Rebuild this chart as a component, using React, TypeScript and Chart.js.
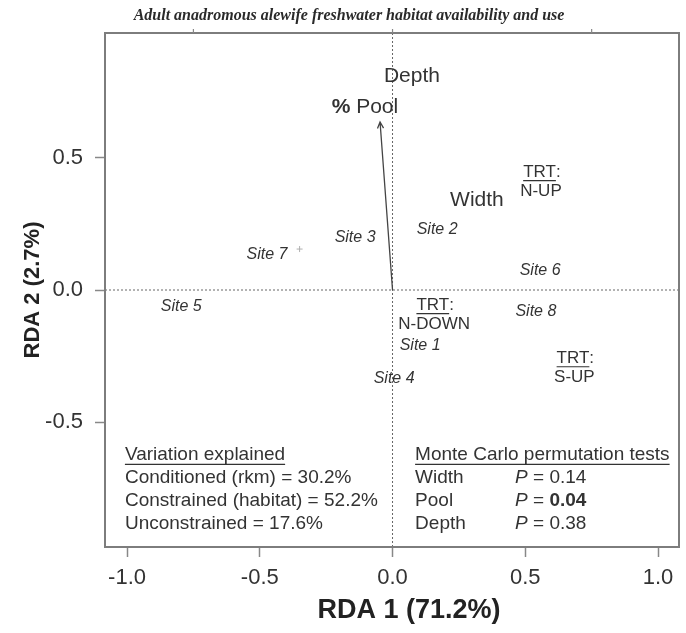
import React, { useEffect, useRef } from 'react';
import { Chart, registerables } from 'chart.js';

Chart.register(...registerables);

// ---- data ----
const chartTitle = 'Adult anadromous alewife freshwater habitat availability and use';
const xTitle = 'RDA 1 (71.2%)';
const yTitle = 'RDA 2 (2.7%)';

const siteNames = ['Site 1', 'Site 2', 'Site 3', 'Site 4', 'Site 5', 'Site 6', 'Site 7', 'Site 8'];
const siteX = [0.104, 0.168, -0.141, 0.006, -0.796, 0.556, -0.473, 0.54];
const siteY = [-0.212, 0.227, 0.197, -0.337, -0.064, 0.072, 0.136, -0.083];

const envNames = ['Depth', '% Pool', 'Width'];
const envX = [0.073, -0.104, 0.318];
const envY = [0.811, 0.693, 0.341];

const arrowX = [0, -0.047];
const arrowY = [0, 0.636];

const speciesX = [-0.35];
const speciesY = [0.155];

const trtNames = ['N-UP', 'N-DOWN', 'S-UP'];
const trtX = [0.559, 0.157, 0.685];
const trtY = [0.447, -0.057, -0.258];

const xTicks = [-1.0, -0.5, 0, 0.5, 1.0];
const yTicks = [-0.5, 0, 0.5];
const topTicks = [-0.75, 0, 0.75];
const xRange = [-1.083, 1.079];
const yRange = [-0.973, 0.973];

const variationTitle = 'Variation explained';
const variationLines = ['Conditioned (rkm) = 30.2%', 'Constrained (habitat) = 52.2%', 'Unconstrained = 17.6%'];
const testTitle = 'Monte Carlo permutation tests';
const testVars = ['Width', 'Pool', 'Depth'];
const testP = ['0.14', '0.04', '0.38'];
const testSignificant = [false, true, false];
const noteX = [-1.008, 0.085];
const noteY = -0.625;

const SANS = '"Liberation Sans", Arial, sans-serif';
const SERIF = '"Liberation Serif", "Times New Roman", serif';
const TEXT = '#333';

function drawUnderlined(ctx: CanvasRenderingContext2D, text: string, x: number, y: number, size: number) {
  ctx.textAlign = 'left';
  ctx.fillText(text, x, y);
  const w = ctx.measureText(text).width;
  const uy = y + size * 0.36 + 2.5;
  ctx.beginPath();
  ctx.moveTo(x, uy);
  ctx.lineTo(x + w, uy);
  ctx.lineWidth = 1.2;
  ctx.strokeStyle = TEXT;
  ctx.stroke();
}

const overlay = {
  id: 'overlay',
  beforeDatasetsDraw(chart: any) {
    const { ctx, chartArea: a, scales } = chart;
    const xs = scales.x;
    const ys = scales.y;
    ctx.save();
    // zero lines
    ctx.strokeStyle = '#666';
    ctx.lineWidth = 1;
    ctx.setLineDash([2, 2]);
    const x0 = xs.getPixelForValue(0);
    const y0 = ys.getPixelForValue(0);
    ctx.beginPath();
    ctx.moveTo(x0, a.top);
    ctx.lineTo(x0, a.bottom);
    ctx.moveTo(a.left, y0);
    ctx.lineTo(a.right, y0);
    ctx.stroke();
    ctx.setLineDash([]);
    // box
    ctx.strokeStyle = '#7d7d7d';
    ctx.lineWidth = 2;
    ctx.strokeRect(a.left, a.top, a.right - a.left, a.bottom - a.top);
    // top ticks
    ctx.lineWidth = 1.2;
    ctx.strokeStyle = '#888';
    ctx.beginPath();
    topTicks.forEach((v) => {
      const px = xs.getPixelForValue(v);
      ctx.moveTo(px, a.top);
      ctx.lineTo(px, a.top - 4);
    });
    ctx.stroke();
    // arrow
    const ax0 = xs.getPixelForValue(arrowX[0]);
    const ay0 = ys.getPixelForValue(arrowY[0]);
    const ax1 = xs.getPixelForValue(arrowX[1]);
    const ay1 = ys.getPixelForValue(arrowY[1]);
    ctx.strokeStyle = '#444';
    ctx.lineWidth = 1.3;
    ctx.beginPath();
    ctx.moveTo(ax0, ay0);
    ctx.lineTo(ax1, ay1);
    const ang = Math.atan2(ay1 - ay0, ax1 - ax0);
    const hl = 7;
    const spread = 0.45;
    ctx.moveTo(ax1 - hl * Math.cos(ang - spread), ay1 - hl * Math.sin(ang - spread));
    ctx.lineTo(ax1, ay1);
    ctx.lineTo(ax1 - hl * Math.cos(ang + spread), ay1 - hl * Math.sin(ang + spread));
    ctx.stroke();
    ctx.restore();
  },
  afterDatasetsDraw(chart: any) {
    const { ctx, scales, chartArea: a } = chart;
    const xs = scales.x;
    const ys = scales.y;
    ctx.save();
    ctx.fillStyle = TEXT;
    ctx.textBaseline = 'middle';
    // sites
    const siteMeta = chart.getDatasetMeta(0);
    ctx.font = `italic 16px ${SANS}`;
    ctx.textAlign = 'center';
    siteMeta.data.forEach((pt: any, i: number) => {
      ctx.fillText(siteNames[i], pt.x, pt.y);
    });
    // env variables
    const envMeta = chart.getDatasetMeta(1);
    envMeta.data.forEach((pt: any, i: number) => {
      const name = envNames[i];
      if (name.startsWith('%')) {
        ctx.font = `bold 21px ${SANS}`;
        const w1 = ctx.measureText('%').width;
        ctx.font = `21px ${SANS}`;
        const rest = name.slice(1);
        const w2 = ctx.measureText(rest).width;
        const sx = pt.x - (w1 + w2) / 2;
        ctx.textAlign = 'left';
        ctx.font = `bold 21px ${SANS}`;
        ctx.fillText('%', sx, pt.y);
        ctx.font = `21px ${SANS}`;
        ctx.fillText(rest, sx + w1, pt.y);
      } else {
        ctx.font = `21px ${SANS}`;
        ctx.textAlign = 'center';
        ctx.fillText(name, pt.x, pt.y);
      }
    });
    // treatments
    const trtMeta = chart.getDatasetMeta(3);
    ctx.font = `17px ${SANS}`;
    trtMeta.data.forEach((pt: any, i: number) => {
      const wT = ctx.measureText('TRT').width;
      const wAll = ctx.measureText('TRT:').width;
      const sx = pt.x - wAll / 2;
      drawUnderlined(ctx, 'TRT', sx, pt.y, 17);
      ctx.fillText(':', sx + wT, pt.y);
      ctx.textAlign = 'center';
      ctx.fillText(trtNames[i], pt.x, pt.y + 19);
    });
    // notes
    ctx.font = `19px ${SANS}`;
    const lx = xs.getPixelForValue(noteX[0]);
    const ly = ys.getPixelForValue(noteY);
    drawUnderlined(ctx, variationTitle, lx, ly, 19);
    variationLines.forEach((t, i) => {
      ctx.textAlign = 'left';
      ctx.fillText(t, lx, ly + 23 * (i + 1));
    });
    const rx = xs.getPixelForValue(noteX[1]);
    drawUnderlined(ctx, testTitle, rx, ly, 19);
    testVars.forEach((t, i) => {
      const yy = ly + 23 * (i + 1);
      ctx.textAlign = 'left';
      ctx.font = `19px ${SANS}`;
      ctx.fillText(t, rx, yy);
      ctx.font = `italic 19px ${SANS}`;
      const px = rx + 100;
      ctx.fillText('P', px, yy);
      const wp = ctx.measureText('P').width;
      ctx.font = `19px ${SANS}`;
      ctx.fillText(' = ', px + wp, yy);
      const we = ctx.measureText(' = ').width;
      ctx.font = `${testSignificant[i] ? 'bold ' : ''}19px ${SANS}`;
      ctx.fillText(testP[i], px + wp + we, yy);
    });
    // x axis title
    ctx.font = `bold 27px ${SANS}`;
    ctx.textAlign = 'center';
    ctx.fillStyle = '#222';
    ctx.fillText(xTitle, (a.left + a.right) / 2 + 17, 611);
    // chart title
    ctx.font = `bold italic 16px ${SERIF}`;
    ctx.textAlign = 'center';
    ctx.fillStyle = '#2a2a2a';
    ctx.fillText(chartTitle, 349, 16);
    ctx.restore();
  },
};

export default function App() {
  const ref = useRef<HTMLCanvasElement | null>(null);
  useEffect(() => {
    document.body.style.margin = '0';
    if (!ref.current) return;
    const chart = new Chart(ref.current, {
      type: 'scatter',
      data: {
        datasets: [
          { label: 'sites', data: siteX.map((x, i) => ({ x, y: siteY[i] })), pointRadius: 0 },
          { label: 'env', data: envX.map((x, i) => ({ x, y: envY[i] })), pointRadius: 0 },
          {
            label: 'species',
            data: speciesX.map((x, i) => ({ x, y: speciesY[i] })),
            pointStyle: 'cross',
            pointRadius: 3,
            borderColor: '#b0b0b0',
            borderWidth: 1,
          },
          { label: 'trt', data: trtX.map((x, i) => ({ x, y: trtY[i] })), pointRadius: 0 },
        ],
      },
      options: {
        animation: false,
        responsive: false,
        layout: { padding: { top: 33, right: 7, left: 0, bottom: 0 } },
        plugins: { legend: { display: false }, tooltip: { enabled: false }, title: { display: false } },
        scales: {
          x: {
            type: 'linear',
            min: xRange[0],
            max: xRange[1],
            afterBuildTicks: (s: any) => {
              s.ticks = xTicks.map((v) => ({ value: v }));
            },
            afterFit: (s: any) => {
              s.height = 86;
            },
            border: { display: false },
            grid: { drawOnChartArea: false, drawTicks: true, tickLength: 10, tickColor: '#888', tickWidth: 1.5 },
            ticks: {
              padding: 8,
              color: TEXT,
              font: { family: SANS, size: 22 },
              callback: (v: any) => Number(v).toFixed(1),
            },
            title: { display: false },
          },
          y: {
            type: 'linear',
            min: yRange[0],
            max: yRange[1],
            afterBuildTicks: (s: any) => {
              s.ticks = yTicks.map((v) => ({ value: v }));
            },
            afterFit: (s: any) => {
              s.width = 105;
            },
            border: { display: false },
            grid: { drawOnChartArea: false, drawTicks: true, tickLength: 10, tickColor: '#888', tickWidth: 1.5 },
            ticks: {
              padding: 12,
              color: TEXT,
              font: { family: SANS, size: 22 },
              callback: (v: any) => Number(v).toFixed(1),
            },
            title: {
              display: true,
              text: yTitle,
              color: '#222',
              font: { family: SANS, size: 22, weight: 'bold' },
              padding: { top: 20, bottom: 0 },
            },
          },
        },
      },
      plugins: [overlay],
    });
    return () => chart.destroy();
  }, []);
  return (
    <div style={{ width: 686, height: 633 }}>
      <canvas ref={ref} width={686} height={633} style={{ display: 'block' }} />
    </div>
  );
}
